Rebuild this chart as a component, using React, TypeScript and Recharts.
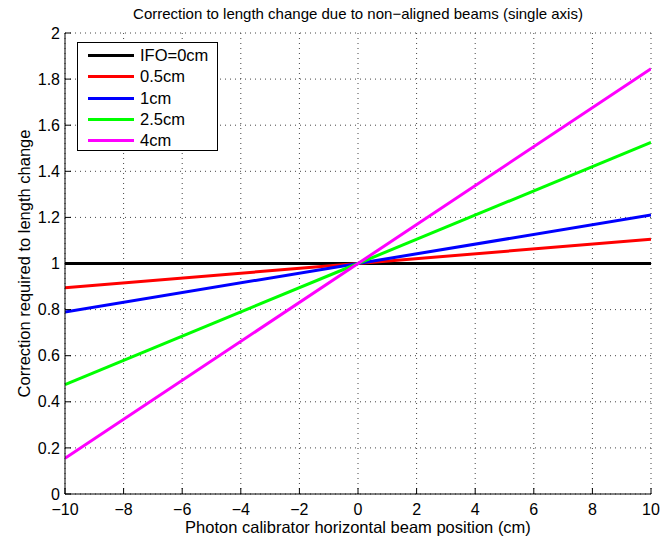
import React from 'react';
import { LineChart, Line, XAxis, YAxis, CartesianGrid, Label } from 'recharts';

const positions = [-10, 0, 10];
const ifo0 = [1, 1, 1];
const ifo05 = [0.895, 1, 1.105];
const ifo1 = [0.79, 1, 1.21];
const ifo25 = [0.475, 1, 1.525];
const ifo4 = [0.155, 1, 1.845];
const seriesNames = ['IFO=0cm', '0.5cm', '1cm', '2.5cm', '4cm'];
const seriesColors = ['#000000', '#ff0000', '#0000ff', '#00ff00', '#ff00ff'];
const xTicks = [-10, -8, -6, -4, -2, 0, 2, 4, 6, 8, 10];
const yTicks = [0, 0.2, 0.4, 0.6, 0.8, 1, 1.2, 1.4, 1.6, 1.8, 2];

const seriesValues = [ifo0, ifo05, ifo1, ifo25, ifo4];
const data = positions.map((x, i) => {
  const row: any = { x };
  seriesValues.forEach((vals, s) => { row['s' + s] = vals[i]; });
  return row;
});

const FONT = '"Liberation Sans", Arial, Helvetica, sans-serif';
const fmtX = (v: number) => String(v).replace('-', '\u2212');
const fmtY = (v: number) => String(Number(v.toFixed(1)));

const LegendBox = () => (
  <div style={{ position: 'absolute', left: 77, top: 42, width: 141, height: 109, boxSizing: 'border-box', border: '1px solid #000', background: '#fff', padding: '2px 0 0 10px', fontFamily: FONT, fontSize: 16.5, zIndex: 2 }}>
    {seriesNames.map((n, i) => (
      <div key={n} style={{ display: 'flex', alignItems: 'center', height: 21.3 }}>
        <div style={{ width: 46, height: 3, background: seriesColors[i], marginRight: 6 }} />
        <span>{n}</span>
      </div>
    ))}
  </div>
);

export default function App() {
  return (
    <div style={{ position: 'absolute', left: 0, top: 0, width: 660, height: 542, background: '#fff' }}>
      <div style={{ position: 'absolute', left: 65, width: 586, top: 5, textAlign: 'center', fontFamily: FONT, fontSize: 15 }}>
        Correction to length change due to non{'\u2212'}aligned beams (single axis)
      </div>
      <LineChart width={660} height={542} data={data} margin={{ top: 33, right: 9, bottom: 0, left: 20 }}>
        <CartesianGrid xAxisId="b" yAxisId="l" stroke="#444" strokeDasharray="1 4" />
        <XAxis xAxisId="b" dataKey="x" type="number" domain={[-10, 10]} ticks={xTicks} tickFormatter={fmtX}
          height={48} tickSize={-6} tickMargin={16} stroke="#000" interval={0} allowDataOverflow
          tick={{ fill: '#000', fontSize: 16, fontFamily: FONT }}>
          <Label value="Photon calibrator horizontal beam position (cm)" position="insideBottom" offset={9}
            style={{ fontSize: 16.5, fontFamily: FONT, fill: '#000' }} />
        </XAxis>
        <XAxis xAxisId="t" dataKey="x" type="number" domain={[-10, 10]} ticks={xTicks} orientation="top"
          height={0} tickSize={-6} stroke="#000" tick={false} interval={0} allowDataOverflow />
        <YAxis yAxisId="l" type="number" domain={[0, 2]} ticks={yTicks} tickFormatter={fmtY} width={45}
          tickSize={-6} tickMargin={11} stroke="#000" interval={0} allowDataOverflow
          tick={{ fill: '#000', fontSize: 16, fontFamily: FONT }}>
          <Label value="Correction required to length change" angle={-90} position="insideLeft" offset={4}
            style={{ fontSize: 16.5, fontFamily: FONT, fill: '#000', textAnchor: 'middle' }} />
        </YAxis>
        <YAxis yAxisId="r" type="number" domain={[0, 2]} ticks={yTicks} orientation="right" width={0}
          tickSize={-6} stroke="#000" tick={false} interval={0} allowDataOverflow />
        {seriesNames.map((n, s) => (
          <Line key={n} xAxisId="b" yAxisId="l" type="linear" dataKey={'s' + s} name={n} stroke={seriesColors[s]}
            strokeWidth={3} dot={false} isAnimationActive={false} />
        ))}
      </LineChart>
      <LegendBox />
    </div>
  );
}
